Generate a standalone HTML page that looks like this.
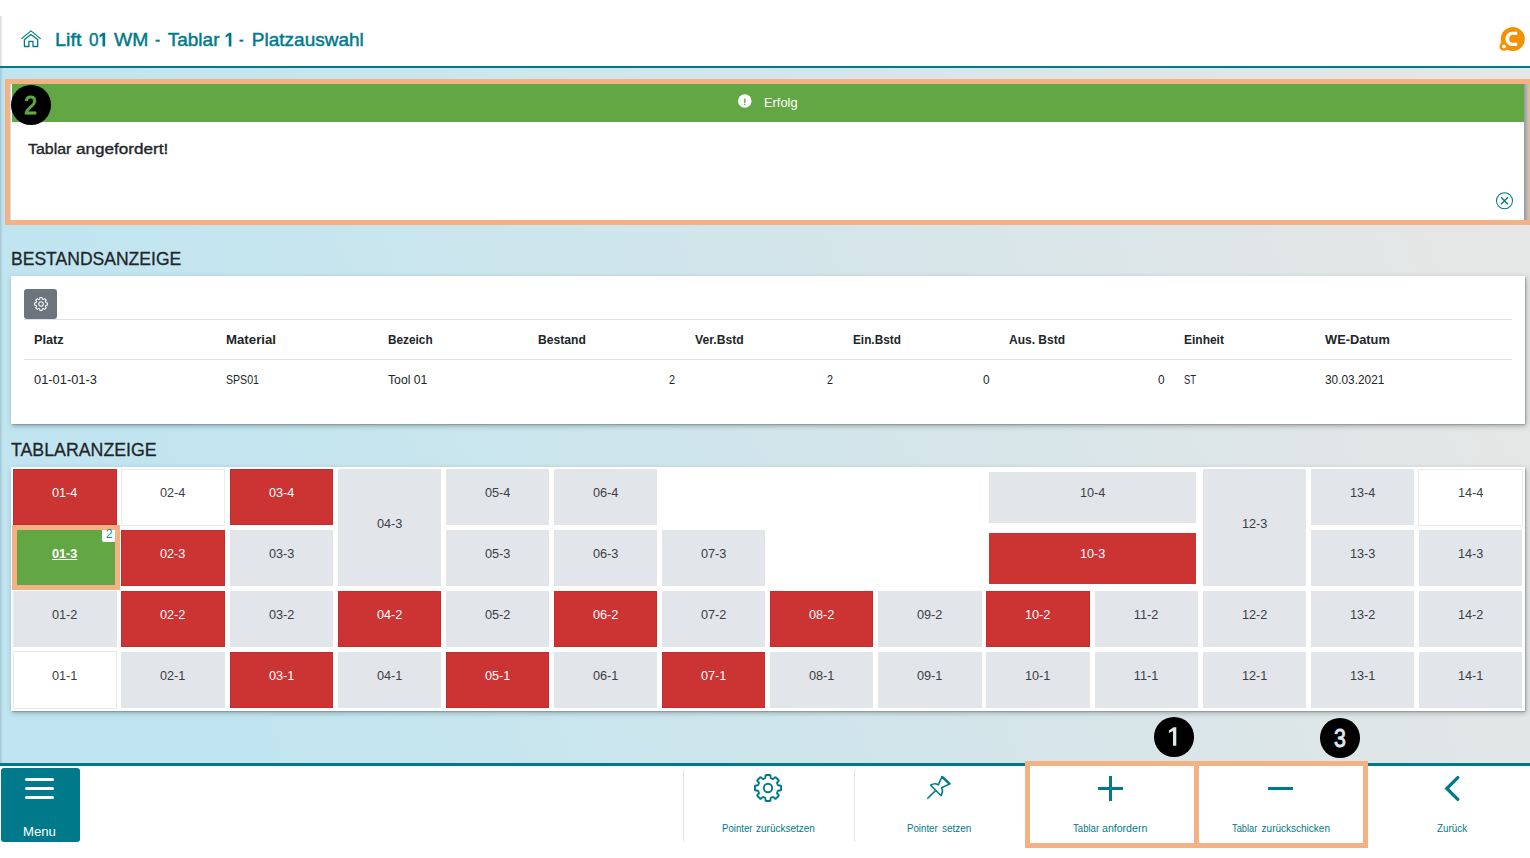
<!DOCTYPE html>
<html lang="de">
<head>
<meta charset="utf-8">
<title>Lift 01 WM - Tablar 1 - Platzauswahl</title>
<style>
*{box-sizing:border-box;margin:0;padding:0}
html,body{width:1530px;height:858px;overflow:hidden;background:#fff;font-family:"Liberation Sans",sans-serif}
#app{position:relative;width:1530px;height:858px;overflow:hidden;background:#fff}
.abs{position:absolute}
.t{position:absolute;white-space:pre;line-height:normal;transform-origin:0 50%;font-family:"Liberation Sans",sans-serif}
.c{position:absolute}
.panel{position:absolute;background:#fff;box-shadow:.5px .5px 1.5px rgba(0,0,0,.45),1px 2px 5px rgba(0,0,0,.28)}
.hr{position:absolute;height:1px;background:#dee2e6}
.ann{position:absolute;border:5px solid #f4b183}
.num{position:absolute;width:40px;height:40px;border-radius:50%;background:#000}
svg{position:absolute;overflow:visible}
</style>
</head>
<body>
<div id="app">
  <!-- main background -->
  <div class="abs" id="bg" style="left:0;top:68px;width:1530px;height:696px;background:linear-gradient(70deg,#c1e5f0 0%,#c1e5f0 15%,#e4e6e6 90%,#e5e6e6 100%)"></div>
  <div class="abs" style="left:0;top:68px;width:2.5px;height:696px;background:linear-gradient(90deg,rgba(120,150,165,.4),rgba(120,150,165,0))"></div>
  <div class="abs" style="left:0;top:16px;width:2.6px;height:50px;background:linear-gradient(90deg,rgba(0,0,0,.15),rgba(0,0,0,0))"></div>

  <!-- header -->
  <div class="abs" style="left:0;top:66px;width:1530px;height:2px;background:#007a8a"></div>
  <svg id="home" style="left:20px;top:29px" width="22" height="19" viewBox="0 0 22 19" fill="none" stroke="#007a8a" stroke-width="1.3" stroke-linejoin="round">
    <path d="M1.3 9.9 L11 1.9 L20.7 9.9" stroke-linejoin="miter" stroke-width="1.15"/>
    <path d="M4.4 10.6 L11 5.5 L17.7 10.6 V17.5 H13 V12.3 H8.9 V17.5 H4.4 Z"/>
  </svg>
  <svg id="logo" style="left:1498px;top:26px" width="28" height="28" viewBox="0 0 28 28">
    <circle cx="14.8" cy="13.1" r="12" fill="#f39200"/>
    <circle cx="5.9" cy="20.4" r="4.4" fill="#f39200"/>
    <circle cx="5.9" cy="20.4" r="1.9" fill="#fff"/>
    <path d="M19.2 5.7 H14.1 A6.6 6.6 0 0 0 7.5 12.3 V13.4 A6.6 6.6 0 0 0 14.1 20.0 H19.2 V16.8 H14.600000000000001 A3.3 3.3 0 0 1 11.3 13.5 V12.399999999999999 A3.3 3.3 0 0 1 14.600000000000001 9.1 H19.2 Z" fill="#fff"/>
  </svg>

  <!-- notification -->
  <div class="abs" style="left:1524px;top:84px;width:5px;height:136px;background:linear-gradient(90deg,rgba(0,0,0,.34),rgba(0,0,0,.13))"></div>
  <div class="panel" style="left:11.3px;top:84px;width:1512.7px;height:136px;box-shadow:none"></div>
  <div class="abs" style="left:11.5px;top:84px;width:1512.5px;height:38px;background:#62a744"></div>
  <svg id="info" style="left:737px;top:94px" width="16" height="16" viewBox="0 0 16 16">
    <circle cx="7.8" cy="7" r="6.8" fill="#fff"/>
    <rect x="7.1" y="4.6" width="1.4" height="4.4" fill="#62a744"/>
    <rect x="7.1" y="9.7" width="1.4" height="1.4" fill="#62a744"/>
  </svg>
  <svg id="close" style="left:1495px;top:191px" width="20" height="20" viewBox="0 0 20 20" fill="none" stroke="#007a8a" stroke-width="1.05">
    <circle cx="9.5" cy="9.8" r="8"/>
    <path d="M6 6.3 L13 13.3 M13 6.3 L6 13.3" stroke-width="1.4"/>
  </svg>

  <!-- Bestandsanzeige -->
  <div class="panel" style="left:11px;top:276px;width:1513.7px;height:148px"></div>
  <div class="abs" style="left:24px;top:289px;width:33px;height:30px;border-radius:3px;background:#6c757d"></div>
  <svg id="gear-s" style="left:32.85px;top:295.9px" width="16" height="16" viewBox="0 0 16 16" fill="none" stroke="#fff" stroke-width="1.05" stroke-linejoin="round">
    <circle cx="8" cy="8" r="2.3"/>
    <path d="M6.34 3.32 Q6.71 3.17 6.72 2.77 L6.76 1.97 Q6.77 1.57 7.17 1.57 L8.83 1.57 Q9.23 1.57 9.24 1.97 L9.28 2.77 Q9.29 3.17 9.66 3.32 L10.13 3.52 Q10.50 3.67 10.79 3.40 L11.39 2.85 Q11.68 2.58 11.96 2.87 L13.13 4.04 Q13.42 4.32 13.15 4.61 L12.60 5.21 Q12.33 5.50 12.48 5.87 L12.68 6.34 Q12.83 6.71 13.23 6.72 L14.03 6.76 Q14.43 6.77 14.43 7.17 L14.43 8.83 Q14.43 9.23 14.03 9.24 L13.23 9.28 Q12.83 9.29 12.68 9.66 L12.48 10.13 Q12.33 10.50 12.60 10.79 L13.15 11.39 Q13.42 11.68 13.13 11.96 L11.96 13.13 Q11.68 13.42 11.39 13.15 L10.79 12.60 Q10.50 12.33 10.13 12.48 L9.66 12.68 Q9.29 12.83 9.28 13.23 L9.24 14.03 Q9.23 14.43 8.83 14.43 L7.17 14.43 Q6.77 14.43 6.76 14.03 L6.72 13.23 Q6.71 12.83 6.34 12.68 L5.87 12.48 Q5.50 12.33 5.21 12.60 L4.61 13.15 Q4.32 13.42 4.04 13.13 L2.87 11.96 Q2.58 11.68 2.85 11.39 L3.40 10.79 Q3.67 10.50 3.52 10.13 L3.32 9.66 Q3.17 9.29 2.77 9.28 L1.97 9.24 Q1.57 9.23 1.57 8.83 L1.57 7.17 Q1.57 6.77 1.97 6.76 L2.77 6.72 Q3.17 6.71 3.32 6.34 L3.52 5.87 Q3.67 5.50 3.40 5.21 L2.85 4.61 Q2.58 4.32 2.87 4.04 L4.04 2.87 Q4.32 2.58 4.61 2.85 L5.21 3.40 Q5.50 3.67 5.87 3.52 Z"/>
  </svg>
  <div class="hr" style="left:24px;top:319px;width:1488px"></div>
  <div class="hr" style="left:24px;top:359px;width:1488px;height:1.4px"></div>

  <!-- Tablaranzeige -->
  <div class="panel" style="left:11px;top:467px;width:1513.7px;height:243.7px"></div>
<div class="c" style="left:13.30px;top:469.40px;width:103.30px;height:55.50px;background:#cc3333;box-shadow:inset 0 0 0 1px rgba(150,0,0,.12);"></div>
<div class="c" style="left:13.30px;top:530.30px;width:103.30px;height:55.80px;background:#62a744;"></div>
<div class="c" style="left:13.30px;top:591.10px;width:103.30px;height:56.10px;background:#e2e5ea;"></div>
<div class="c" style="left:12.60px;top:651.30px;width:104.70px;height:57.40px;background:#fff;box-shadow:inset 0 0 0 1px #e9eaeb;"></div>
<div class="c" style="left:120.72px;top:468.70px;width:104.70px;height:56.90px;background:#fff;box-shadow:inset 0 0 0 1px #e9eaeb;"></div>
<div class="c" style="left:121.42px;top:530.30px;width:103.30px;height:55.80px;background:#cc3333;box-shadow:inset 0 0 0 1px rgba(150,0,0,.12);"></div>
<div class="c" style="left:121.42px;top:591.10px;width:103.30px;height:56.10px;background:#cc3333;box-shadow:inset 0 0 0 1px rgba(150,0,0,.12);"></div>
<div class="c" style="left:121.42px;top:652.00px;width:103.30px;height:56.00px;background:#e2e5ea;"></div>
<div class="c" style="left:229.54px;top:469.40px;width:103.30px;height:55.50px;background:#cc3333;box-shadow:inset 0 0 0 1px rgba(150,0,0,.12);"></div>
<div class="c" style="left:229.54px;top:530.30px;width:103.30px;height:55.80px;background:#e2e5ea;"></div>
<div class="c" style="left:229.54px;top:591.10px;width:103.30px;height:56.10px;background:#e2e5ea;"></div>
<div class="c" style="left:229.54px;top:652.00px;width:103.30px;height:56.00px;background:#cc3333;box-shadow:inset 0 0 0 1px rgba(150,0,0,.12);"></div>
<div class="c" style="left:337.66px;top:591.10px;width:103.30px;height:56.10px;background:#cc3333;box-shadow:inset 0 0 0 1px rgba(150,0,0,.12);"></div>
<div class="c" style="left:337.66px;top:652.00px;width:103.30px;height:56.00px;background:#e2e5ea;"></div>
<div class="c" style="left:445.78px;top:469.40px;width:103.30px;height:55.50px;background:#e2e5ea;"></div>
<div class="c" style="left:445.78px;top:530.30px;width:103.30px;height:55.80px;background:#e2e5ea;"></div>
<div class="c" style="left:445.78px;top:591.10px;width:103.30px;height:56.10px;background:#e2e5ea;"></div>
<div class="c" style="left:445.78px;top:652.00px;width:103.30px;height:56.00px;background:#cc3333;box-shadow:inset 0 0 0 1px rgba(150,0,0,.12);"></div>
<div class="c" style="left:553.90px;top:469.40px;width:103.30px;height:55.50px;background:#e2e5ea;"></div>
<div class="c" style="left:553.90px;top:530.30px;width:103.30px;height:55.80px;background:#e2e5ea;"></div>
<div class="c" style="left:553.90px;top:591.10px;width:103.30px;height:56.10px;background:#cc3333;box-shadow:inset 0 0 0 1px rgba(150,0,0,.12);"></div>
<div class="c" style="left:553.90px;top:652.00px;width:103.30px;height:56.00px;background:#e2e5ea;"></div>
<div class="c" style="left:662.02px;top:530.30px;width:103.30px;height:55.80px;background:#e2e5ea;"></div>
<div class="c" style="left:662.02px;top:591.10px;width:103.30px;height:56.10px;background:#e2e5ea;"></div>
<div class="c" style="left:662.02px;top:652.00px;width:103.30px;height:56.00px;background:#cc3333;box-shadow:inset 0 0 0 1px rgba(150,0,0,.12);"></div>
<div class="c" style="left:770.14px;top:591.10px;width:103.30px;height:56.10px;background:#cc3333;box-shadow:inset 0 0 0 1px rgba(150,0,0,.12);"></div>
<div class="c" style="left:770.14px;top:652.00px;width:103.30px;height:56.00px;background:#e2e5ea;"></div>
<div class="c" style="left:878.26px;top:591.10px;width:103.30px;height:56.10px;background:#e2e5ea;"></div>
<div class="c" style="left:878.26px;top:652.00px;width:103.30px;height:56.00px;background:#e2e5ea;"></div>
<div class="c" style="left:986.38px;top:591.10px;width:103.30px;height:56.10px;background:#cc3333;box-shadow:inset 0 0 0 1px rgba(150,0,0,.12);"></div>
<div class="c" style="left:986.38px;top:652.00px;width:103.30px;height:56.00px;background:#e2e5ea;"></div>
<div class="c" style="left:1094.50px;top:591.10px;width:103.30px;height:56.10px;background:#e2e5ea;"></div>
<div class="c" style="left:1094.50px;top:652.00px;width:103.30px;height:56.00px;background:#e2e5ea;"></div>
<div class="c" style="left:1202.62px;top:591.10px;width:103.30px;height:56.10px;background:#e2e5ea;"></div>
<div class="c" style="left:1202.62px;top:652.00px;width:103.30px;height:56.00px;background:#e2e5ea;"></div>
<div class="c" style="left:1310.74px;top:469.40px;width:103.30px;height:55.50px;background:#e2e5ea;"></div>
<div class="c" style="left:1310.74px;top:530.30px;width:103.30px;height:55.80px;background:#e2e5ea;"></div>
<div class="c" style="left:1310.74px;top:591.10px;width:103.30px;height:56.10px;background:#e2e5ea;"></div>
<div class="c" style="left:1310.74px;top:652.00px;width:103.30px;height:56.00px;background:#e2e5ea;"></div>
<div class="c" style="left:1418.16px;top:468.70px;width:104.70px;height:56.90px;background:#fff;box-shadow:inset 0 0 0 1px #e9eaeb;"></div>
<div class="c" style="left:1418.86px;top:530.30px;width:103.30px;height:55.80px;background:#e2e5ea;"></div>
<div class="c" style="left:1418.86px;top:591.10px;width:103.30px;height:56.10px;background:#e2e5ea;"></div>
<div class="c" style="left:1418.86px;top:652.00px;width:103.30px;height:56.00px;background:#e2e5ea;"></div>
<div class="c" style="left:337.66px;top:469.40px;width:103.30px;height:116.70px;background:#e2e5ea;"></div>
<div class="c" style="left:1202.62px;top:469.40px;width:103.30px;height:116.70px;background:#e2e5ea;"></div>
<div class="c" style="left:988.5px;top:471.6px;width:207.2px;height:51.6px;background:#e2e5ea"></div>
<div class="c" style="left:988.5px;top:532.7px;width:207.2px;height:51.3px;background:#cc3333"></div>
  <div class="abs" id="badge" style="left:102px;top:530.3px;width:14.7px;height:11.7px;background:#fff;border-radius:0 0 0 2px"></div>

  <!-- bottom bar -->
  <div class="abs" style="left:0;top:766px;width:1530px;height:92px;background:#fff"></div>
  <div class="abs" style="left:0;top:763.3px;width:1530px;height:2.7px;background:#007a8a"></div>
  <div class="abs" style="left:1px;top:768px;width:79px;height:74.3px;border-radius:3px;background:#007a8a"></div>
  <div class="abs" style="left:25.2px;top:778.3px;width:28.7px;height:3.1px;border-radius:1.6px;background:#fff"></div>
  <div class="abs" style="left:25.2px;top:787.1px;width:28.7px;height:3.1px;border-radius:1.6px;background:#fff"></div>
  <div class="abs" style="left:25.2px;top:795.9px;width:28.7px;height:3.1px;border-radius:1.6px;background:#fff"></div>
  <div class="abs" style="left:683.1px;top:768.6px;width:5px;height:73px;border-left:1.7px solid #e4e4e4;border-radius:3px 0 0 3px"></div>
  <div class="abs" style="left:854.2px;top:768.6px;width:5px;height:73px;border-left:1.7px solid #e4e4e4;border-radius:3px 0 0 3px"></div>

  <svg id="gear-l" style="left:752.7px;top:773.1px" width="30" height="30" viewBox="0 0 30 30" fill="none" stroke="#007a8a" stroke-width="1.9" stroke-linejoin="round">
    <circle cx="15" cy="15" r="4.2"/>
    <path d="M11.73 5.32 Q12.42 5.03 12.44 4.28 L12.49 2.69 Q12.51 1.94 13.26 1.94 L16.74 1.94 Q17.49 1.94 17.51 2.69 L17.56 4.28 Q17.58 5.03 18.27 5.32 L19.53 5.84 Q20.23 6.13 20.77 5.61 L21.93 4.52 Q22.48 4.00 23.01 4.53 L25.47 6.99 Q26.00 7.52 25.48 8.07 L24.39 9.23 Q23.87 9.77 24.16 10.47 L24.68 11.73 Q24.97 12.42 25.72 12.44 L27.31 12.49 Q28.06 12.51 28.06 13.26 L28.06 16.74 Q28.06 17.49 27.31 17.51 L25.72 17.56 Q24.97 17.58 24.68 18.27 L24.16 19.53 Q23.87 20.23 24.39 20.77 L25.48 21.93 Q26.00 22.48 25.47 23.01 L23.01 25.47 Q22.48 26.00 21.93 25.48 L20.77 24.39 Q20.23 23.87 19.53 24.16 L18.27 24.68 Q17.58 24.97 17.56 25.72 L17.51 27.31 Q17.49 28.06 16.74 28.06 L13.26 28.06 Q12.51 28.06 12.49 27.31 L12.44 25.72 Q12.42 24.97 11.73 24.68 L10.47 24.16 Q9.77 23.87 9.23 24.39 L8.07 25.48 Q7.52 26.00 6.99 25.47 L4.53 23.01 Q4.00 22.48 4.52 21.93 L5.61 20.77 Q6.13 20.23 5.84 19.53 L5.32 18.27 Q5.03 17.58 4.28 17.56 L2.69 17.51 Q1.94 17.49 1.94 16.74 L1.94 13.26 Q1.94 12.51 2.69 12.49 L4.28 12.44 Q5.03 12.42 5.32 11.73 L5.84 10.47 Q6.13 9.77 5.61 9.23 L4.52 8.07 Q4.00 7.52 4.53 6.99 L6.99 4.53 Q7.52 4.00 8.07 4.52 L9.23 5.61 Q9.77 6.13 10.47 5.84 Z"/>
  </svg>
  <svg id="pin" style="left:926px;top:775px" width="25" height="25" viewBox="0 0 25 25" fill="none" stroke="#007a8a" stroke-width="1.6" stroke-linejoin="round" stroke-linecap="round">
    <path d="M16.05 1.6 L23.75 8.85 L15.6 12.8 Q17.6 16.5 14.9 20.5 L4.6 10.25 Q8.6 7.6 12.3 9.8 Z"/>
    <path d="M9.6 15.5 L1.8 23.3"/>
    <path d="M16.4 2.1 L23.3 8.6" stroke-width="2.3"/>
  </svg>
  <svg id="plus" style="left:1097.5px;top:776.3px" width="25" height="25" viewBox="0 0 25 25" fill="none" stroke="#007a8a" stroke-width="3">
    <path d="M12.5 0 V25 M0 12.5 H25"/>
  </svg>
  <svg id="minus" style="left:1268.2px;top:775.5px" width="25" height="25" viewBox="0 0 25 25" fill="none" stroke="#007a8a" stroke-width="3">
    <path d="M0 12.5 H25"/>
  </svg>
  <svg id="chev" style="left:1443px;top:774px" width="20" height="30" viewBox="0 0 20 30" fill="none" stroke="#007a8a" stroke-width="3.3" stroke-linecap="round" stroke-linejoin="miter">
    <path d="M14.8 3.600 L3.800 14.500 L14.800 25.400"/>
  </svg>

  <!-- annotations -->
  <div class="ann" style="left:5px;top:79px;width:1529px;height:146px"></div>
  <div class="ann" style="left:12px;top:525px;width:108px;height:65px"></div>
  <div class="ann" style="left:1025px;top:761px;width:174px;height:87px"></div>
  <div class="ann" style="left:1194px;top:761px;width:174px;height:87px"></div>
  <div class="num" style="left:11.2px;top:85px;width:39.6px;height:39.6px"></div>
  <div class="num" style="left:1154.2px;top:717px;width:39.6px;height:39.6px"></div>
  <svg id="one-title" style="left:0;top:0" width="400" height="66"><path d="M231.4 32.8 H229.2 L225.65 35.2 V37.4 L228.7 35.7 V46.5 H231.4 Z M105.2 32.8 H103 L99.45 35.2 V37.4 L102.5 35.7 V46.5 H105.2 Z" fill="#007a8a"/></svg>
  <svg id="one" style="left:0;top:0" width="1530" height="858"><path d="M1176.3 727.2 H1173.6 L1168.9 730.5 V733 L1173 730.9 V745.8 H1176.3 Z" fill="#dfe8eb"/></svg>
  <div class="num" style="left:1320.2px;top:718px;width:39.6px;height:39.6px"></div>

<span class="t" style="left:54.94px;top:29.30px;font-size:19px;color:#007a8a;-webkit-text-stroke:0.45px #007a8a;transform:scaleX(1.0405);">Lift</span>
<span class="t" style="left:89.20px;top:29.30px;font-size:19px;color:#007a8a;-webkit-text-stroke:0.45px #007a8a;transform:scaleX(0.8995);">0</span>
<span class="t" style="left:113.53px;top:29.30px;font-size:19px;color:#007a8a;-webkit-text-stroke:0.45px #007a8a;transform:scaleX(1.0185);">WM</span>
<span class="t" style="left:155.28px;top:29.30px;font-size:19px;color:#007a8a;-webkit-text-stroke:0.45px #007a8a;transform:scaleX(0.8062);">-</span>
<span class="t" style="left:167.73px;top:29.30px;font-size:19px;color:#007a8a;-webkit-text-stroke:0.45px #007a8a;">Tablar</span>
<span class="t" style="left:239.46px;top:29.30px;font-size:19px;color:#007a8a;-webkit-text-stroke:0.45px #007a8a;transform:scaleX(0.7287);">-</span>
<span class="t" style="left:251.83px;top:29.30px;font-size:19px;color:#007a8a;-webkit-text-stroke:0.45px #007a8a;">Platzauswahl</span>
<span class="t" style="left:763.58px;top:95.70px;font-size:12.6px;color:#fff;transform:scaleX(1.0190);">Erfolg</span>
<span class="t" style="left:28.08px;top:139.90px;font-size:15.3px;color:#212529;-webkit-text-stroke:0.35px #212529;transform:scaleX(1.0401);">Tablar</span>
<span class="t" style="left:76.40px;top:139.90px;font-size:15.3px;color:#212529;-webkit-text-stroke:0.35px #212529;transform:scaleX(1.1178);">angefordert!</span>
<span class="t" style="left:11.41px;top:248.30px;font-size:18.8px;color:#212529;-webkit-text-stroke:0.3px #212529;transform:scaleX(0.9340);">BESTANDSANZEIGE</span>
<span class="t" style="left:11.34px;top:439.30px;font-size:18.8px;color:#212529;-webkit-text-stroke:0.3px #212529;transform:scaleX(0.9455);">TABLARANZEIGE</span>
<span class="t" style="left:33.70px;top:332.10px;font-size:12.8px;color:#212529;font-weight:700;transform:scaleX(0.9943);">Platz</span>
<span class="t" style="left:226.10px;top:332.10px;font-size:12.8px;color:#212529;font-weight:700;transform:scaleX(1.0333);">Material</span>
<span class="t" style="left:387.60px;top:332.10px;font-size:12.8px;color:#212529;font-weight:700;transform:scaleX(0.9228);">Bezeich</span>
<span class="t" style="left:538.20px;top:332.10px;font-size:12.8px;color:#212529;font-weight:700;transform:scaleX(0.9482);">Bestand</span>
<span class="t" style="left:694.70px;top:332.10px;font-size:12.8px;color:#212529;font-weight:700;transform:scaleX(0.9525);">Ver.Bstd</span>
<span class="t" style="left:852.90px;top:332.10px;font-size:12.8px;color:#212529;font-weight:700;transform:scaleX(0.9220);">Ein.Bstd</span>
<span class="t" style="left:1009.40px;top:332.10px;font-size:12.8px;color:#212529;font-weight:700;transform:scaleX(0.9388);">Aus. Bstd</span>
<span class="t" style="left:1184.30px;top:332.10px;font-size:12.8px;color:#212529;font-weight:700;transform:scaleX(0.9356);">Einheit</span>
<span class="t" style="left:1325.10px;top:332.10px;font-size:12.8px;color:#212529;font-weight:700;">WE-Datum</span>
<span class="t" style="left:33.70px;top:372.30px;font-size:12.8px;color:#212529;transform:scaleX(1.0050);">01-01-01-3</span>
<span class="t" style="left:226.10px;top:372.30px;font-size:12.8px;color:#212529;transform:scaleX(0.8257);">SPS01</span>
<span class="t" style="left:387.60px;top:372.30px;font-size:12.8px;color:#212529;transform:scaleX(0.9551);">Tool 01</span>
<span class="t" style="left:668.60px;top:372.30px;font-size:12.8px;color:#212529;transform:scaleX(0.8429);">2</span>
<span class="t" style="left:826.50px;top:372.30px;font-size:12.8px;color:#212529;transform:scaleX(0.8429);">2</span>
<span class="t" style="left:982.90px;top:372.30px;font-size:12.8px;color:#212529;transform:scaleX(0.9286);">0</span>
<span class="t" style="left:1157.90px;top:372.30px;font-size:12.8px;color:#212529;transform:scaleX(0.9286);">0</span>
<span class="t" style="left:1184.30px;top:372.30px;font-size:12.8px;color:#212529;transform:scaleX(0.7378);">ST</span>
<span class="t" style="left:1325.10px;top:372.30px;font-size:12.8px;color:#212529;transform:scaleX(0.9260);">30.03.2021</span>
<span class="t" style="left:22.69px;top:824.00px;font-size:13px;color:#fff;transform:scaleX(1.0131);">Menu</span>
<span class="t" style="left:721.50px;top:822.90px;font-size:10px;color:#007a8a;transform:scaleX(0.9612);">Pointer</span>
<span class="t" style="left:756.00px;top:822.90px;font-size:10px;color:#007a8a;">zurücksetzen</span>
<span class="t" style="left:907.20px;top:822.90px;font-size:10px;color:#007a8a;transform:scaleX(0.9705);">Pointer</span>
<span class="t" style="left:941.90px;top:822.90px;font-size:10px;color:#007a8a;">setzen</span>
<span class="t" style="left:1072.90px;top:822.90px;font-size:10px;color:#007a8a;transform:scaleX(0.9604);">Tablar</span>
<span class="t" style="left:1102.40px;top:822.90px;font-size:10px;color:#007a8a;transform:scaleX(1.0581);">anfordern</span>
<span class="t" style="left:1232.30px;top:822.90px;font-size:10px;color:#007a8a;transform:scaleX(0.9281);">Tablar</span>
<span class="t" style="left:1261.60px;top:822.90px;font-size:10px;color:#007a8a;">zurückschicken</span>
<span class="t" style="left:1436.60px;top:822.90px;font-size:10px;color:#007a8a;transform:scaleX(0.9854);">Zurück</span>
<span class="t" style="left:24.38px;top:90.90px;font-size:25px;color:#62a744;-webkit-text-stroke:0.9px #62a744;transform:scaleX(0.9380);">2</span>
<span class="t" style="left:1334.29px;top:723.90px;font-size:25px;color:#e0e9ec;-webkit-text-stroke:0.9px #e0e9ec;transform:scaleX(0.8561);">3</span>
<span class="t" style="left:106.40px;top:527.20px;font-size:12.5px;color:#1387a3;transform:scaleX(0.9429);">2</span>
<span class="t" style="left:51.35px;top:485.40px;font-size:13.6px;color:#fff;transform-origin:50% 50%;transform:scaleX(0.935);">01-4</span>
<span class="t" style="left:51.35px;top:546.30px;font-size:13.6px;color:#fff;font-weight:700;text-decoration:underline;transform-origin:50% 50%;transform:scaleX(0.935);">01-3</span>
<span class="t" style="left:51.35px;top:607.10px;font-size:13.6px;color:#3a3f45;transform-origin:50% 50%;transform:scaleX(0.935);">01-2</span>
<span class="t" style="left:51.35px;top:668.00px;font-size:13.6px;color:#3a3f45;transform-origin:50% 50%;transform:scaleX(0.935);">01-1</span>
<span class="t" style="left:159.47px;top:485.40px;font-size:13.6px;color:#3a3f45;transform-origin:50% 50%;transform:scaleX(0.935);">02-4</span>
<span class="t" style="left:159.47px;top:546.30px;font-size:13.6px;color:#fff;transform-origin:50% 50%;transform:scaleX(0.935);">02-3</span>
<span class="t" style="left:159.47px;top:607.10px;font-size:13.6px;color:#fff;transform-origin:50% 50%;transform:scaleX(0.935);">02-2</span>
<span class="t" style="left:159.47px;top:668.00px;font-size:13.6px;color:#3a3f45;transform-origin:50% 50%;transform:scaleX(0.935);">02-1</span>
<span class="t" style="left:267.59px;top:485.40px;font-size:13.6px;color:#fff;transform-origin:50% 50%;transform:scaleX(0.935);">03-4</span>
<span class="t" style="left:267.59px;top:546.30px;font-size:13.6px;color:#3a3f45;transform-origin:50% 50%;transform:scaleX(0.935);">03-3</span>
<span class="t" style="left:267.59px;top:607.10px;font-size:13.6px;color:#3a3f45;transform-origin:50% 50%;transform:scaleX(0.935);">03-2</span>
<span class="t" style="left:267.59px;top:668.00px;font-size:13.6px;color:#fff;transform-origin:50% 50%;transform:scaleX(0.935);">03-1</span>
<span class="t" style="left:375.71px;top:607.10px;font-size:13.6px;color:#fff;transform-origin:50% 50%;transform:scaleX(0.935);">04-2</span>
<span class="t" style="left:375.71px;top:668.00px;font-size:13.6px;color:#3a3f45;transform-origin:50% 50%;transform:scaleX(0.935);">04-1</span>
<span class="t" style="left:483.83px;top:485.40px;font-size:13.6px;color:#3a3f45;transform-origin:50% 50%;transform:scaleX(0.935);">05-4</span>
<span class="t" style="left:483.83px;top:546.30px;font-size:13.6px;color:#3a3f45;transform-origin:50% 50%;transform:scaleX(0.935);">05-3</span>
<span class="t" style="left:483.83px;top:607.10px;font-size:13.6px;color:#3a3f45;transform-origin:50% 50%;transform:scaleX(0.935);">05-2</span>
<span class="t" style="left:483.83px;top:668.00px;font-size:13.6px;color:#fff;transform-origin:50% 50%;transform:scaleX(0.935);">05-1</span>
<span class="t" style="left:591.95px;top:485.40px;font-size:13.6px;color:#3a3f45;transform-origin:50% 50%;transform:scaleX(0.935);">06-4</span>
<span class="t" style="left:591.95px;top:546.30px;font-size:13.6px;color:#3a3f45;transform-origin:50% 50%;transform:scaleX(0.935);">06-3</span>
<span class="t" style="left:591.95px;top:607.10px;font-size:13.6px;color:#fff;transform-origin:50% 50%;transform:scaleX(0.935);">06-2</span>
<span class="t" style="left:591.95px;top:668.00px;font-size:13.6px;color:#3a3f45;transform-origin:50% 50%;transform:scaleX(0.935);">06-1</span>
<span class="t" style="left:700.07px;top:546.30px;font-size:13.6px;color:#3a3f45;transform-origin:50% 50%;transform:scaleX(0.935);">07-3</span>
<span class="t" style="left:700.07px;top:607.10px;font-size:13.6px;color:#3a3f45;transform-origin:50% 50%;transform:scaleX(0.935);">07-2</span>
<span class="t" style="left:700.07px;top:668.00px;font-size:13.6px;color:#fff;transform-origin:50% 50%;transform:scaleX(0.935);">07-1</span>
<span class="t" style="left:808.19px;top:607.10px;font-size:13.6px;color:#fff;transform-origin:50% 50%;transform:scaleX(0.935);">08-2</span>
<span class="t" style="left:808.19px;top:668.00px;font-size:13.6px;color:#3a3f45;transform-origin:50% 50%;transform:scaleX(0.935);">08-1</span>
<span class="t" style="left:916.31px;top:607.10px;font-size:13.6px;color:#3a3f45;transform-origin:50% 50%;transform:scaleX(0.935);">09-2</span>
<span class="t" style="left:916.31px;top:668.00px;font-size:13.6px;color:#3a3f45;transform-origin:50% 50%;transform:scaleX(0.935);">09-1</span>
<span class="t" style="left:1024.43px;top:607.10px;font-size:13.6px;color:#fff;transform-origin:50% 50%;transform:scaleX(0.935);">10-2</span>
<span class="t" style="left:1024.43px;top:668.00px;font-size:13.6px;color:#3a3f45;transform-origin:50% 50%;transform:scaleX(0.935);">10-1</span>
<span class="t" style="left:1133.05px;top:607.10px;font-size:13.6px;color:#3a3f45;transform-origin:50% 50%;transform:scaleX(0.935);">11-2</span>
<span class="t" style="left:1133.05px;top:668.00px;font-size:13.6px;color:#3a3f45;transform-origin:50% 50%;transform:scaleX(0.935);">11-1</span>
<span class="t" style="left:1240.67px;top:607.10px;font-size:13.6px;color:#3a3f45;transform-origin:50% 50%;transform:scaleX(0.935);">12-2</span>
<span class="t" style="left:1240.67px;top:668.00px;font-size:13.6px;color:#3a3f45;transform-origin:50% 50%;transform:scaleX(0.935);">12-1</span>
<span class="t" style="left:1348.79px;top:485.40px;font-size:13.6px;color:#3a3f45;transform-origin:50% 50%;transform:scaleX(0.935);">13-4</span>
<span class="t" style="left:1348.79px;top:546.30px;font-size:13.6px;color:#3a3f45;transform-origin:50% 50%;transform:scaleX(0.935);">13-3</span>
<span class="t" style="left:1348.79px;top:607.10px;font-size:13.6px;color:#3a3f45;transform-origin:50% 50%;transform:scaleX(0.935);">13-2</span>
<span class="t" style="left:1348.79px;top:668.00px;font-size:13.6px;color:#3a3f45;transform-origin:50% 50%;transform:scaleX(0.935);">13-1</span>
<span class="t" style="left:1456.91px;top:485.40px;font-size:13.6px;color:#3a3f45;transform-origin:50% 50%;transform:scaleX(0.935);">14-4</span>
<span class="t" style="left:1456.91px;top:546.30px;font-size:13.6px;color:#3a3f45;transform-origin:50% 50%;transform:scaleX(0.935);">14-3</span>
<span class="t" style="left:1456.91px;top:607.10px;font-size:13.6px;color:#3a3f45;transform-origin:50% 50%;transform:scaleX(0.935);">14-2</span>
<span class="t" style="left:1456.91px;top:668.00px;font-size:13.6px;color:#3a3f45;transform-origin:50% 50%;transform:scaleX(0.935);">14-1</span>
<span class="t" style="left:375.71px;top:515.90px;font-size:13.6px;color:#3a3f45;transform-origin:50% 50%;transform:scaleX(0.935);">04-3</span>
<span class="t" style="left:1240.67px;top:515.90px;font-size:13.6px;color:#3a3f45;transform-origin:50% 50%;transform:scaleX(0.935);">12-3</span>
<span class="t" style="left:1078.60px;top:485.40px;font-size:13.6px;color:#3a3f45;transform-origin:50% 50%;transform:scaleX(0.935);">10-4</span>
<span class="t" style="left:1078.60px;top:546.30px;font-size:13.6px;color:#fff;transform-origin:50% 50%;transform:scaleX(0.935);">10-3</span>
</div>
</body>
</html>
